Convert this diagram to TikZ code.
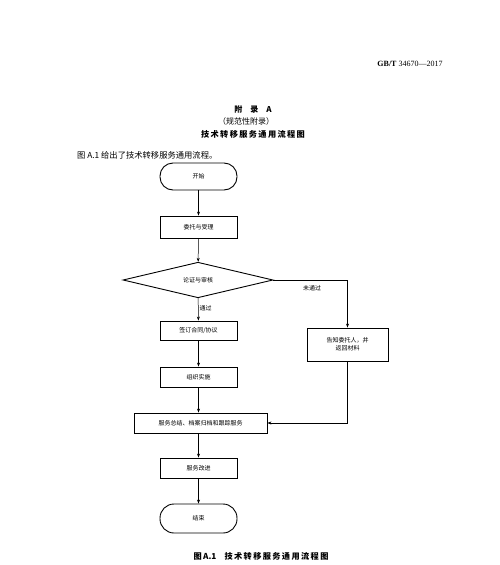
\documentclass[tikz,border=0pt]{standalone}
\usepackage{fontspec}
\setmainfont{Liberation Serif}
\newfontfamily\cjk{Noto Sans CJK SC}
\usetikzlibrary{shapes.geometric,arrows.meta}
\tikzset{
  box/.style={draw, line width=0.9pt, minimum width=77pt, minimum height=20pt, inner sep=1pt, font=\cjk\fontsize{6}{8}\selectfont, align=center},
  term/.style={box, rounded corners=13pt},
  dec/.style={draw, line width=0.9pt, diamond, minimum width=150pt, minimum height=35pt, inner sep=0pt, font=\cjk\fontsize{6}{8}\selectfont},
  arr/.style={line width=0.5pt, -{Stealth[length=4pt,width=3pt]}},
  lab/.style={font=\cjk\fontsize{6}{8}\selectfont, inner sep=1pt},
}
\begin{document}
\begin{tikzpicture}[x=1pt,y=-1pt]
\useasboundingbox (0,0) rectangle (500,565);
\node[font=\fontsize{8}{10}\selectfont] (hdr) at (410,64) {\textbf{GB/T} 34670—2017};
\node[font=\cjk\bfseries\fontsize{8}{10}\selectfont] (app) at (253,109) {附\quad 录\quad A};
\node[font=\cjk\fontsize{8}{10}\selectfont] (norm) at (246,121) {（规范性附录）};
\node[font=\cjk\bfseries\fontsize{8.2}{10}\selectfont] (ttl) at (253,134) {技\,术\,转\,移\,服\,务\,通\,用\,流\,程\,图};
\node[font=\cjk\fontsize{8.3}{10}\selectfont, anchor=west, inner sep=0pt] (intro) at (77,155) {图 A.1 给出了技术转移服务通用流程。};

\node[term, minimum height=27pt] (start) at (198.5,176.5) {开始};
\node[box, minimum height=22pt] (accept) at (198.5,227) {委托与受理};
\node[dec] (check) at (198,280) {论证与审核};
\node[box, minimum height=19pt] (sign) at (198.5,330.5) {签订合同/协议};
\node[box] (impl) at (198.5,377) {组织实施};
\node[box, minimum width=81pt, minimum height=33pt] (notify) at (347.5,344.5) {告知委托人，并\\返回材料};
\node[box, minimum width=133pt] (sum) at (200.5,423) {服务总结、档案归档和跟踪服务};
\node[box] (improve) at (198.5,468) {服务改进};
\node[term, minimum height=29pt, rounded corners=14pt] (finish) at (198.5,518.5) {结束};

\draw[arr] (start) -- (accept);
\draw[arr] (accept) -- (check);
\draw[arr] (check) -- node[lab, right, pos=0.45] {通过} (sign);
\draw[arr] (sign) -- (impl);
\draw[arr] (impl.south) -- (impl.south |- sum.north);
\draw[arr] (sum.south -| improve.north) -- (improve);
\draw[arr] (improve) -- (finish);
\draw[arr] (check.east) -| (notify.north);
\node[lab] (fail) at (312,288) {未通过};
\draw[arr] (notify.south) |- (sum.east);

\node[font=\cjk\bfseries\fontsize{8.2}{10}\selectfont] (cap) at (261,556) {图\,A.1\quad 技\,术\,转\,移\,服\,务\,通\,用\,流\,程\,图};
\end{tikzpicture}
\end{document}
